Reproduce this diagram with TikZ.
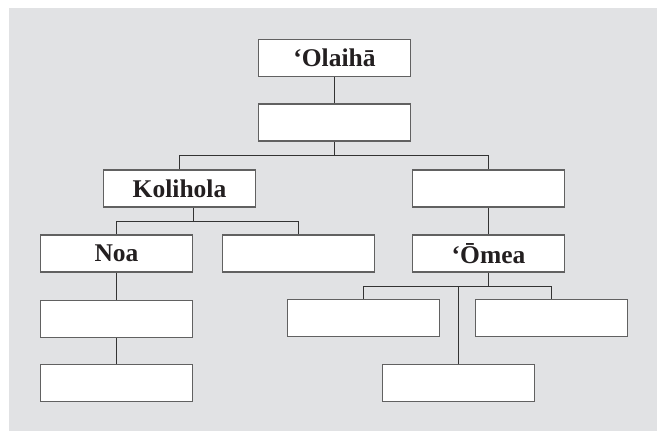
\documentclass[tikz,border=0pt]{standalone}
\usepackage{fontspec}
\setmainfont{Liberation Serif}
\usepackage{tikz}
\usetikzlibrary{calc}
\definecolor{panel}{RGB}{225,226,228}
\definecolor{ink}{RGB}{35,31,32}
\tikzset{
  bx/.style={rectangle,draw=black!62,fill=white,minimum width=152pt,minimum height=37pt,
             inner sep=0pt,line width=1.2pt,text=ink,font=\fontsize{25.5}{29}\selectfont\bfseries},
  lnk/.style={draw=black!80,line width=.9pt},
}

\begin{document}
\begin{tikzpicture}[x=1pt,y=-1pt]
\useasboundingbox (0,0) rectangle (659,431);
\fill[panel] (9,8) rectangle (657,431);
% ---------- top: root and its blank child ----------
\node[bx] (ola) at (334.5,58) {‘Olaihā};
\node[bx] (b1)  at (334.5,122.5) {};
% ---------- second level ----------
\node[bx] (kol) at (179.5,188.5) {Kolihola};
\node[bx] (rb)  at (488.5,188.5) {};
% ---------- third level ----------
\node[bx] (noa) at (116.5,253.5) {Noa};
\node[bx] (kb)  at (298.5,253.5) {};
\node[bx] (ome) at (488.5,253.5) {‘Ōmea};
% ---------- under Noa and under 'Omea ----------
\node[bx] (n1) at (116.5,319) {};
\node[bx] (n2) at (116.5,383) {};
\node[bx] (o1) at (363.5,318) {};
\node[bx] (o3) at (551.5,318) {};
\node[bx] (o2) at (458.5,383) {};
% branch points
\coordinate (j1) at (334.5,155.5);
\coordinate (j2) at (193.5,221.5);
\coordinate (j3) at (488.5,286.5);
\draw[lnk] (ola)--(b1) (b1.south -| j1)--(j1);
\draw[lnk] (kol.north) |- (j1) -| (rb.north);
\draw[lnk] (kol.south -| j2)--(j2) (noa.north) |- (j2) -| (kb.north);
\draw[lnk] (rb)--(ome) (ome.south -| j3)--(j3);
\draw[lnk] (o1.north) |- (j3) -| (o3.north) (j3 -| o2.north)--(o2.north);
\draw[lnk] (noa)--(n1) (n1)--(n2);
\end{tikzpicture}
\end{document}
